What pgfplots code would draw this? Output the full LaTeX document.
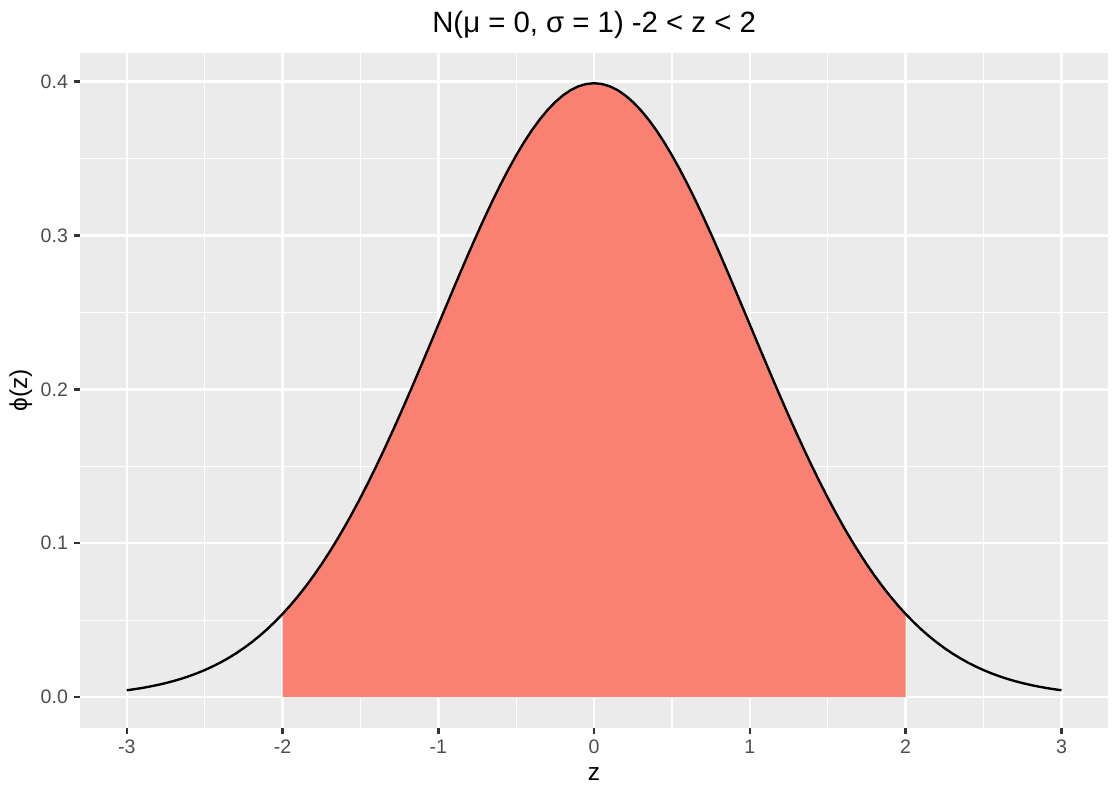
\documentclass[border=0pt]{standalone}
\usepackage{pgfplots}
\pgfplotsset{compat=1.18}
\usepackage{pgfplotstable}
\usepackage{fontspec}
\setmainfont{Liberation Sans}

\definecolor{panelgrey}{HTML}{EBEBEB}
\definecolor{salmon}{HTML}{FA8072}
\definecolor{tickgrey}{HTML}{333333}
\definecolor{labgrey}{HTML}{4D4D4D}

% standard normal density, read off at steps of 0.05
\pgfplotstableread{
z phi
-3.00 0.004432
-2.95 0.005143
-2.90 0.005953
-2.85 0.006872
-2.80 0.007915
-2.75 0.009094
-2.70 0.010421
-2.65 0.011910
-2.60 0.013583
-2.55 0.015450
-2.50 0.017528
-2.45 0.019837
-2.40 0.022395
-2.35 0.025222
-2.30 0.028327
-2.25 0.031740
-2.20 0.035475
-2.15 0.039554
-2.10 0.043984
-2.05 0.048795
-2.00 0.053991
-1.95 0.059595
-1.90 0.065616
-1.85 0.072065
-1.80 0.078950
-1.75 0.086277
-1.70 0.094049
-1.65 0.102265
-1.60 0.110921
-1.55 0.120009
-1.50 0.129518
-1.45 0.139428
-1.40 0.149727
-1.35 0.160380
-1.30 0.171369
-1.25 0.182649
-1.20 0.194186
-1.15 0.205936
-1.10 0.217852
-1.05 0.229884
-1.00 0.241971
-0.95 0.254059
-0.90 0.266085
-0.85 0.277985
-0.80 0.289692
-0.75 0.301137
-0.70 0.312254
-0.65 0.322972
-0.60 0.333225
-0.55 0.342944
-0.50 0.352065
-0.45 0.360527
-0.40 0.368270
-0.35 0.375240
-0.30 0.381388
-0.25 0.386668
-0.20 0.391043
-0.15 0.394479
-0.10 0.396953
-0.05 0.398444
0.00 0.398942
0.05 0.398444
0.10 0.396953
0.15 0.394479
0.20 0.391043
0.25 0.386668
0.30 0.381388
0.35 0.375240
0.40 0.368270
0.45 0.360527
0.50 0.352065
0.55 0.342944
0.60 0.333225
0.65 0.322972
0.70 0.312254
0.75 0.301137
0.80 0.289692
0.85 0.277985
0.90 0.266085
0.95 0.254059
1.00 0.241971
1.05 0.229884
1.10 0.217852
1.15 0.205936
1.20 0.194186
1.25 0.182649
1.30 0.171369
1.35 0.160380
1.40 0.149727
1.45 0.139428
1.50 0.129518
1.55 0.120009
1.60 0.110921
1.65 0.102265
1.70 0.094049
1.75 0.086277
1.80 0.078950
1.85 0.072065
1.90 0.065616
1.95 0.059595
2.00 0.053991
2.05 0.048795
2.10 0.043984
2.15 0.039554
2.20 0.035475
2.25 0.031740
2.30 0.028327
2.35 0.025222
2.40 0.022395
2.45 0.019837
2.50 0.017528
2.55 0.015450
2.60 0.013583
2.65 0.011910
2.70 0.010421
2.75 0.009094
2.80 0.007915
2.85 0.006872
2.90 0.005953
2.95 0.005143
3.00 0.004432
}\dens

\begin{document}
\begin{tikzpicture}
\path[use as bounding box] (0,0) rectangle (504pt,360pt);
\begin{axis}[
    at={(36pt,32.5pt)}, anchor=south west,
    scale only axis,
    width=462.7pt, height=303.8pt,
    xmin=-3.3, xmax=3.3,
    ymin=-0.01995, ymax=0.4188,
    axis background/.style={fill=panelgrey},
    axis line style={draw=none},
    grid=both,
    major grid style={white, line width=1.07pt},
    minor grid style={white, line width=0.53pt},
    xtick={-3,-2,-1,0,1,2,3},
    xticklabels={-3,-2,-1,0,1,2,3},
    minor xtick={-2.5,-1.5,-0.5,0.5,1.5,2.5},
    ytick={0,0.1,0.2,0.3,0.4},
    yticklabels={0.0,0.1,0.2,0.3,0.4},
    minor ytick={0.05,0.15,0.25,0.35},
    tick pos=left,
    tick align=outside,
    major tick length=2.75pt,
    minor tick length=0pt,
    major tick style={tickgrey, line width=1.07pt},
    tick label style={font=\fontsize{8.8}{10}\selectfont, text=labgrey, inner sep=0pt},
    xticklabel style={anchor=base, yshift=-9pt},
    yticklabel style={anchor=east, xshift=-2.5pt},
    every axis title shift=0pt,
    title={N(μ = 0, σ = 1) -2 < z < 2},
    title style={font=\fontsize{13.2}{15}\selectfont, anchor=base, at={(axis description cs:0.5,1.0293)}, inner sep=0pt},
    xlabel={z},
    xlabel style={font=\fontsize{11}{13}\selectfont, anchor=base, at={(axis description cs:0.5,-0.0774)}, inner sep=0pt},
    ylabel={ϕ(z)},
    ylabel style={font=\fontsize{11}{13}\selectfont, anchor=base, at={(axis description cs:-0.0514,0.5)}, inner sep=0pt},
]
\addplot[fill=salmon, draw=none, restrict x to domain=-2.001:2.001, unbounded coords=discard] table[x=z, y=phi] {\dens} \closedcycle;
\addplot[black, line width=1.07pt, line join=round] table[x=z, y=phi] {\dens};
\end{axis}
\end{tikzpicture}
\end{document}
